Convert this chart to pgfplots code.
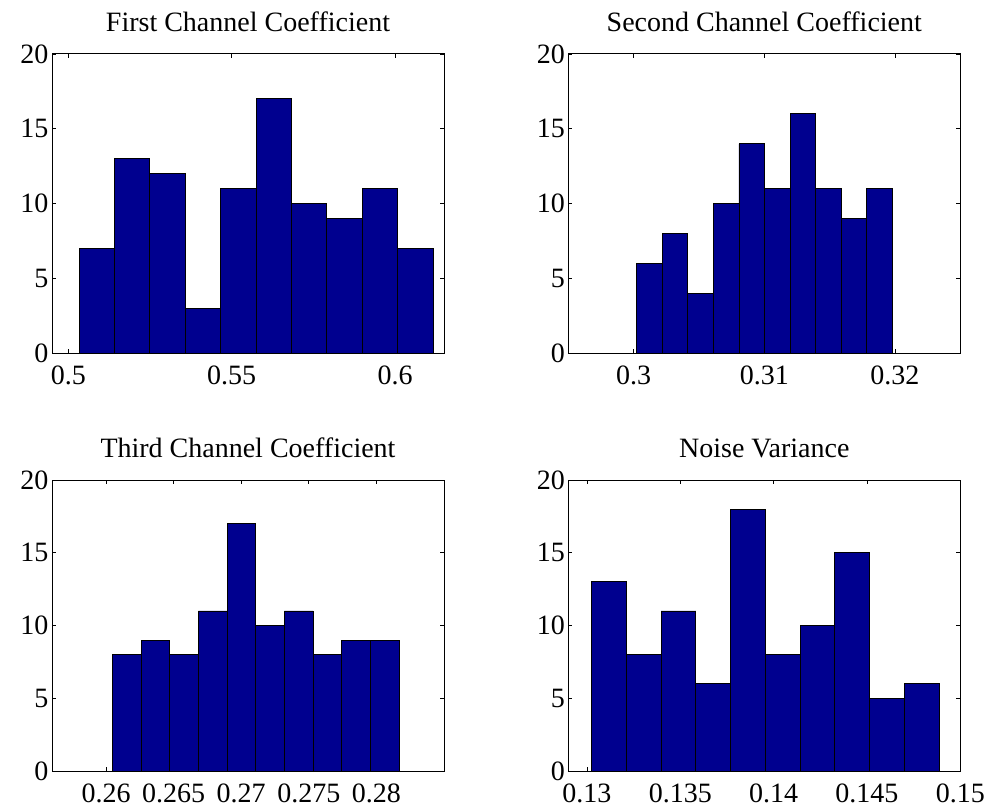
\documentclass[border=0pt]{standalone}
\usepackage{fontspec}
\setmainfont{Liberation Serif}
\usepackage{pgfplots}
\pgfplotsset{compat=1.18}
\definecolor{matblue}{RGB}{0,0,143}
\pgfplotsset{
  hist/.style={
    scale only axis,
    width=392pt,
    anchor=south west,
    ymin=0, ymax=20,
    ytick={0,5,10,15,20},
    tick align=inside,
    major tick length=4pt,
    axis line style={line width=1pt},
    tick style={black, line width=0.8pt},
    tick label style={font=\fontsize{28}{32}\selectfont},
    title style={font=\fontsize{28}{32}\selectfont, yshift=13pt},
    xticklabel style={yshift=-9pt},
    /pgf/number format/assume math mode=true,
    scaled x ticks=false,
    axis on top=false,
  },
  histbar/.style={ybar interval, fill=matblue, draw=black, line width=0.8pt},
}
\begin{document}
\begin{tikzpicture}
\useasboundingbox (0,0) rectangle (990pt,809pt);
% First channel coefficient
\begin{axis}[hist, at={(52pt,455.7pt)}, height=299.3pt,
  title={First Channel Coefficient},
  xmin=0.495, xmax=0.615,
  xtick={0.5,0.55,0.6}, xticklabels={0.5,0.55,0.6}]
\addplot[histbar] coordinates {
(0.50327,7) (0.51411,13) (0.52495,12) (0.53579,3) (0.54663,11)
(0.55747,17) (0.56831,10) (0.57915,9) (0.58999,11) (0.60083,7) (0.61167,7)};
\end{axis}
% Second channel coefficient
\begin{axis}[hist, at={(568.3pt,455.7pt)}, height=299.3pt,
  title={Second Channel Coefficient},
  xmin=0.295, xmax=0.325,
  xtick={0.3,0.31,0.32}, xticklabels={0.3,0.31,0.32}]
\addplot[histbar] coordinates {
(0.30023,6) (0.30219,8) (0.30414,4) (0.30610,10) (0.30806,14)
(0.31002,11) (0.31197,16) (0.31393,11) (0.31589,9) (0.31784,11) (0.31980,11)};
\end{axis}
% Third channel coefficient
\begin{axis}[hist, at={(52pt,38pt)}, height=291pt,
  title={Third Channel Coefficient},
  xmin=0.256, xmax=0.285,
  xtick={0.26,0.265,0.27,0.275,0.28}, xticklabels={0.26,0.265,0.27,0.275,0.28}]
\addplot[histbar] coordinates {
(0.26047,8) (0.26259,9) (0.26471,8) (0.26683,11) (0.26895,17)
(0.27108,10) (0.27320,11) (0.27532,8) (0.27744,9) (0.27956,9) (0.28168,9)};
\end{axis}
% Noise variance
\begin{axis}[hist, at={(568.3pt,38pt)}, height=291pt,
  title={Noise Variance},
  xmin=0.129, xmax=0.15,
  xtick={0.13,0.135,0.14,0.145,0.15}, xticklabels={0.13,0.135,0.14,0.145,0.15}]
\addplot[histbar] coordinates {
(0.13025,13) (0.13211,8) (0.13397,11) (0.13583,6) (0.13769,18)
(0.13956,8) (0.14142,10) (0.14328,15) (0.14514,5) (0.14700,6) (0.14886,6)};
\end{axis}
\end{tikzpicture}
\end{document}
